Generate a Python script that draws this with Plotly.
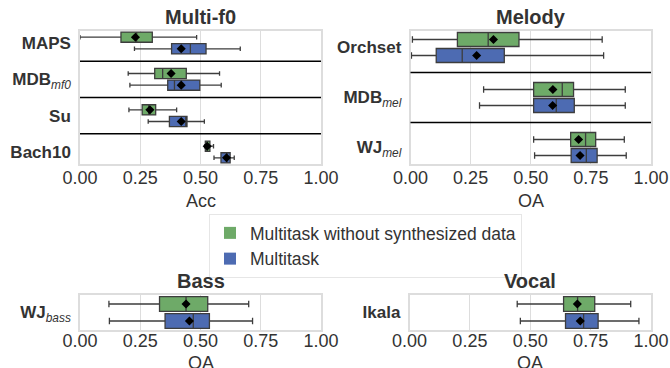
import plotly.graph_objects as go

# ---------------- data ----------------
series_names = ["Multitask without synthesized data", "Multitask"]
series_colors = ["#6eaa68", "#4d6bb2"]

# Multi-f0 (Acc)
mf0_labels = ["<b>MAPS</b>", "<b>MDB</b><sub><i>mf0</i></sub>", "<b>Su</b>", "<b>Bach10</b>"]
mf0_nosyn_low = [0.00, 0.20, 0.203, 0.517]
mf0_nosyn_q1 = [0.17, 0.31, 0.258, 0.520]
mf0_nosyn_med = [0.235, 0.343, 0.285, 0.527]
mf0_nosyn_q3 = [0.30, 0.441, 0.314, 0.539]
mf0_nosyn_high = [0.484, 0.579, 0.401, 0.554]
mf0_nosyn_mean = [0.23, 0.378, 0.29, 0.528]
mf0_multi_low = [0.226, 0.207, 0.283, 0.556]
mf0_multi_q1 = [0.38, 0.364, 0.371, 0.585]
mf0_multi_med = [0.458, 0.392, 0.439, 0.61]
mf0_multi_q3 = [0.523, 0.497, 0.444, 0.623]
mf0_multi_high = [0.665, 0.586, 0.516, 0.64]
mf0_multi_mean = [0.42, 0.42, 0.42, 0.608]

# Melody (OA)
mel_labels = ["<b>Orchset</b>", "<b>MDB</b><sub><i>mel</i></sub>", "<b>WJ</b><sub><i>mel</i></sub>"]
mel_nosyn_low = [0.008, 0.304, 0.512]
mel_nosyn_q1 = [0.195, 0.512, 0.666]
mel_nosyn_med = [0.323, 0.631, 0.728]
mel_nosyn_q3 = [0.451, 0.678, 0.770]
mel_nosyn_high = [0.797, 0.893, 0.889]
mel_nosyn_mean = [0.345, 0.592, 0.699]
mel_multi_low = [0.004, 0.287, 0.516]
mel_multi_q1 = [0.107, 0.512, 0.668]
mel_multi_med = [0.215, 0.606, 0.731]
mel_multi_q3 = [0.390, 0.681, 0.776]
mel_multi_high = [0.803, 0.893, 0.897]
mel_multi_mean = [0.275, 0.591, 0.705]

# Bass (OA)
bass_labels = ["<b>WJ</b><sub><i>bass</i></sub>"]
bass_nosyn_low = [0.12]
bass_nosyn_q1 = [0.33]
bass_nosyn_med = [0.44]
bass_nosyn_q3 = [0.53]
bass_nosyn_high = [0.70]
bass_nosyn_mean = [0.44]
bass_multi_low = [0.122]
bass_multi_q1 = [0.353]
bass_multi_med = [0.47]
bass_multi_q3 = [0.537]
bass_multi_high = [0.716]
bass_multi_mean = [0.454]

# Vocal (OA)
voc_labels = ["<b>Ikala</b>"]
voc_nosyn_low = [0.446]
voc_nosyn_q1 = [0.638]
voc_nosyn_med = [0.696]
voc_nosyn_q3 = [0.767]
voc_nosyn_high = [0.916]
voc_nosyn_mean = [0.695]
voc_multi_low = [0.459]
voc_multi_q1 = [0.646]
voc_multi_med = [0.721]
voc_multi_q3 = [0.781]
voc_multi_high = [0.95]
voc_multi_mean = [0.707]

x_ticks = [0, 0.25, 0.5, 0.75, 1.0]
x_ticktext = ["0.00", "0.25", "0.50", "0.75", "1.00"]

panels = [
    dict(title="Multi-f0", xtitle="Acc", labels=mf0_labels,
         stats=[(mf0_nosyn_low, mf0_nosyn_q1, mf0_nosyn_med, mf0_nosyn_q3, mf0_nosyn_high, mf0_nosyn_mean),
                (mf0_multi_low, mf0_multi_q1, mf0_multi_med, mf0_multi_q3, mf0_multi_high, mf0_multi_mean)],
         xdom=[80 / 670, 321 / 670], ydom=[1 - 164 / 368, 1 - 31 / 368], tstand=-3, tshift=-25),
    dict(title="Melody", xtitle="OA", labels=mel_labels,
         stats=[(mel_nosyn_low, mel_nosyn_q1, mel_nosyn_med, mel_nosyn_q3, mel_nosyn_high, mel_nosyn_mean),
                (mel_multi_low, mel_multi_q1, mel_multi_med, mel_multi_q3, mel_multi_high, mel_multi_mean)],
         xdom=[410.5 / 670, 651 / 670], ydom=[1 - 164 / 368, 1 - 31 / 368], tstand=-3, tshift=-25),
    dict(title="Bass", xtitle="OA", labels=bass_labels,
         stats=[(bass_nosyn_low, bass_nosyn_q1, bass_nosyn_med, bass_nosyn_q3, bass_nosyn_high, bass_nosyn_mean),
                (bass_multi_low, bass_multi_q1, bass_multi_med, bass_multi_q3, bass_multi_high, bass_multi_mean)],
         xdom=[80 / 670, 321 / 670], ydom=[1 - 330 / 368, 1 - 295 / 368], tstand=-6, tshift=-21),
    dict(title="Vocal", xtitle="OA", labels=voc_labels,
         stats=[(voc_nosyn_low, voc_nosyn_q1, voc_nosyn_med, voc_nosyn_q3, voc_nosyn_high, voc_nosyn_mean),
                (voc_multi_low, voc_multi_q1, voc_multi_med, voc_multi_q3, voc_multi_high, voc_multi_mean)],
         xdom=[409.5 / 670, 651 / 670], ydom=[1 - 330 / 368, 1 - 295 / 368], tstand=-6, tshift=-21),
]

FONT = "Liberation Sans, Arial, sans-serif"
TXT = "#333333"
offsets = [-0.16, 0.16]   # first series above the category centre, second below
BOX_W = 0.28

fig = go.Figure()
layout = dict(
    width=670, height=368,
    margin=dict(l=0, r=0, t=0, b=0),
    paper_bgcolor="white", plot_bgcolor="white",
    font=dict(family=FONT, color=TXT),
    boxmode="overlay",
    showlegend=True,
    legend=dict(x=209 / 670, y=1 - 214 / 368, xanchor="left", yanchor="top",
                bgcolor="white", bordercolor="#e6e6e6", borderwidth=1,
                font=dict(size=17.5, color=TXT, family=FONT),
                itemsizing="constant", tracegroupgap=0),
)
shapes = []
annotations = []

for p_i, p in enumerate(panels):
    ax = "" if p_i == 0 else str(p_i + 1)
    xa, ya = "x" + ax, "y" + ax
    n = len(p["labels"])
    centres = list(range(n))
    for s_i, (low, q1, med, q3, high, mean) in enumerate(p["stats"]):
        pos = [c + offsets[s_i] for c in centres]
        fig.add_trace(go.Box(
            y=pos, q1=q1, median=med, q3=q3, lowerfence=low, upperfence=high,
            orientation="h", width=BOX_W, whiskerwidth=0.45,
            fillcolor=series_colors[s_i], line=dict(color="#3d3d3d", width=1.3),
            xaxis=xa, yaxis=ya, showlegend=False, hoverinfo="skip",
        ))
        fig.add_trace(go.Scatter(
            x=mean, y=pos, mode="markers",
            marker=dict(symbol="diamond", size=7, color="black"),
            xaxis=xa, yaxis=ya, showlegend=False, hoverinfo="skip",
        ))
    layout["xaxis" + ax] = dict(
        domain=p["xdom"], anchor=ya, range=[0, 1], tickvals=x_ticks, ticktext=x_ticktext,
        showgrid=True, gridcolor="#dddddd", gridwidth=1, zeroline=False,
        showline=True, linecolor="#dddddd", linewidth=1.5, mirror=True,
        ticks="", tickfont=dict(size=18, color=TXT), automargin=False,
        ticklabelstandoff=p["tstand"],
    )
    layout["yaxis" + ax] = dict(
        domain=p["ydom"], anchor=xa, range=[n - 1 + 0.33, -0.33],
        tickvals=centres, ticktext=p["labels"], showgrid=False, zeroline=False,
        showline=True, linecolor="#dddddd", linewidth=1.5, mirror=True,
        ticks="", tickfont=dict(size=17, color=TXT), automargin=False,
        ticklabelstandoff=4,
    )
    # separators between dataset groups
    for k in range(n - 1):
        shapes.append(dict(type="line", xref=xa + " domain", yref=ya,
                           x0=0, x1=1, y0=k + 0.5, y1=k + 0.5,
                           line=dict(color="black", width=1.5)))
    annotations.append(dict(text="<b>" + p["title"] + "</b>", xref=xa + " domain", yref=ya + " domain",
                            x=0.5, y=1, xanchor="center", yanchor="bottom", yshift=1,
                            showarrow=False, font=dict(size=20, color=TXT, family=FONT)))
    annotations.append(dict(text=p["xtitle"], xref=xa + " domain", yref=ya + " domain",
                            x=0.5, y=0, xanchor="center", yanchor="top", yshift=p["tshift"],
                            showarrow=False, font=dict(size=18, color=TXT, family=FONT)))

# legend entries
for name, col in zip(series_names, series_colors):
    fig.add_trace(go.Scatter(x=[None], y=[None], mode="markers", name=name,
                             marker=dict(symbol="square", size=9, color=col),
                             xaxis="x", yaxis="y"))

layout["shapes"] = shapes
layout["annotations"] = annotations
fig.update_layout(**layout)
fig.write_html("out.html")
